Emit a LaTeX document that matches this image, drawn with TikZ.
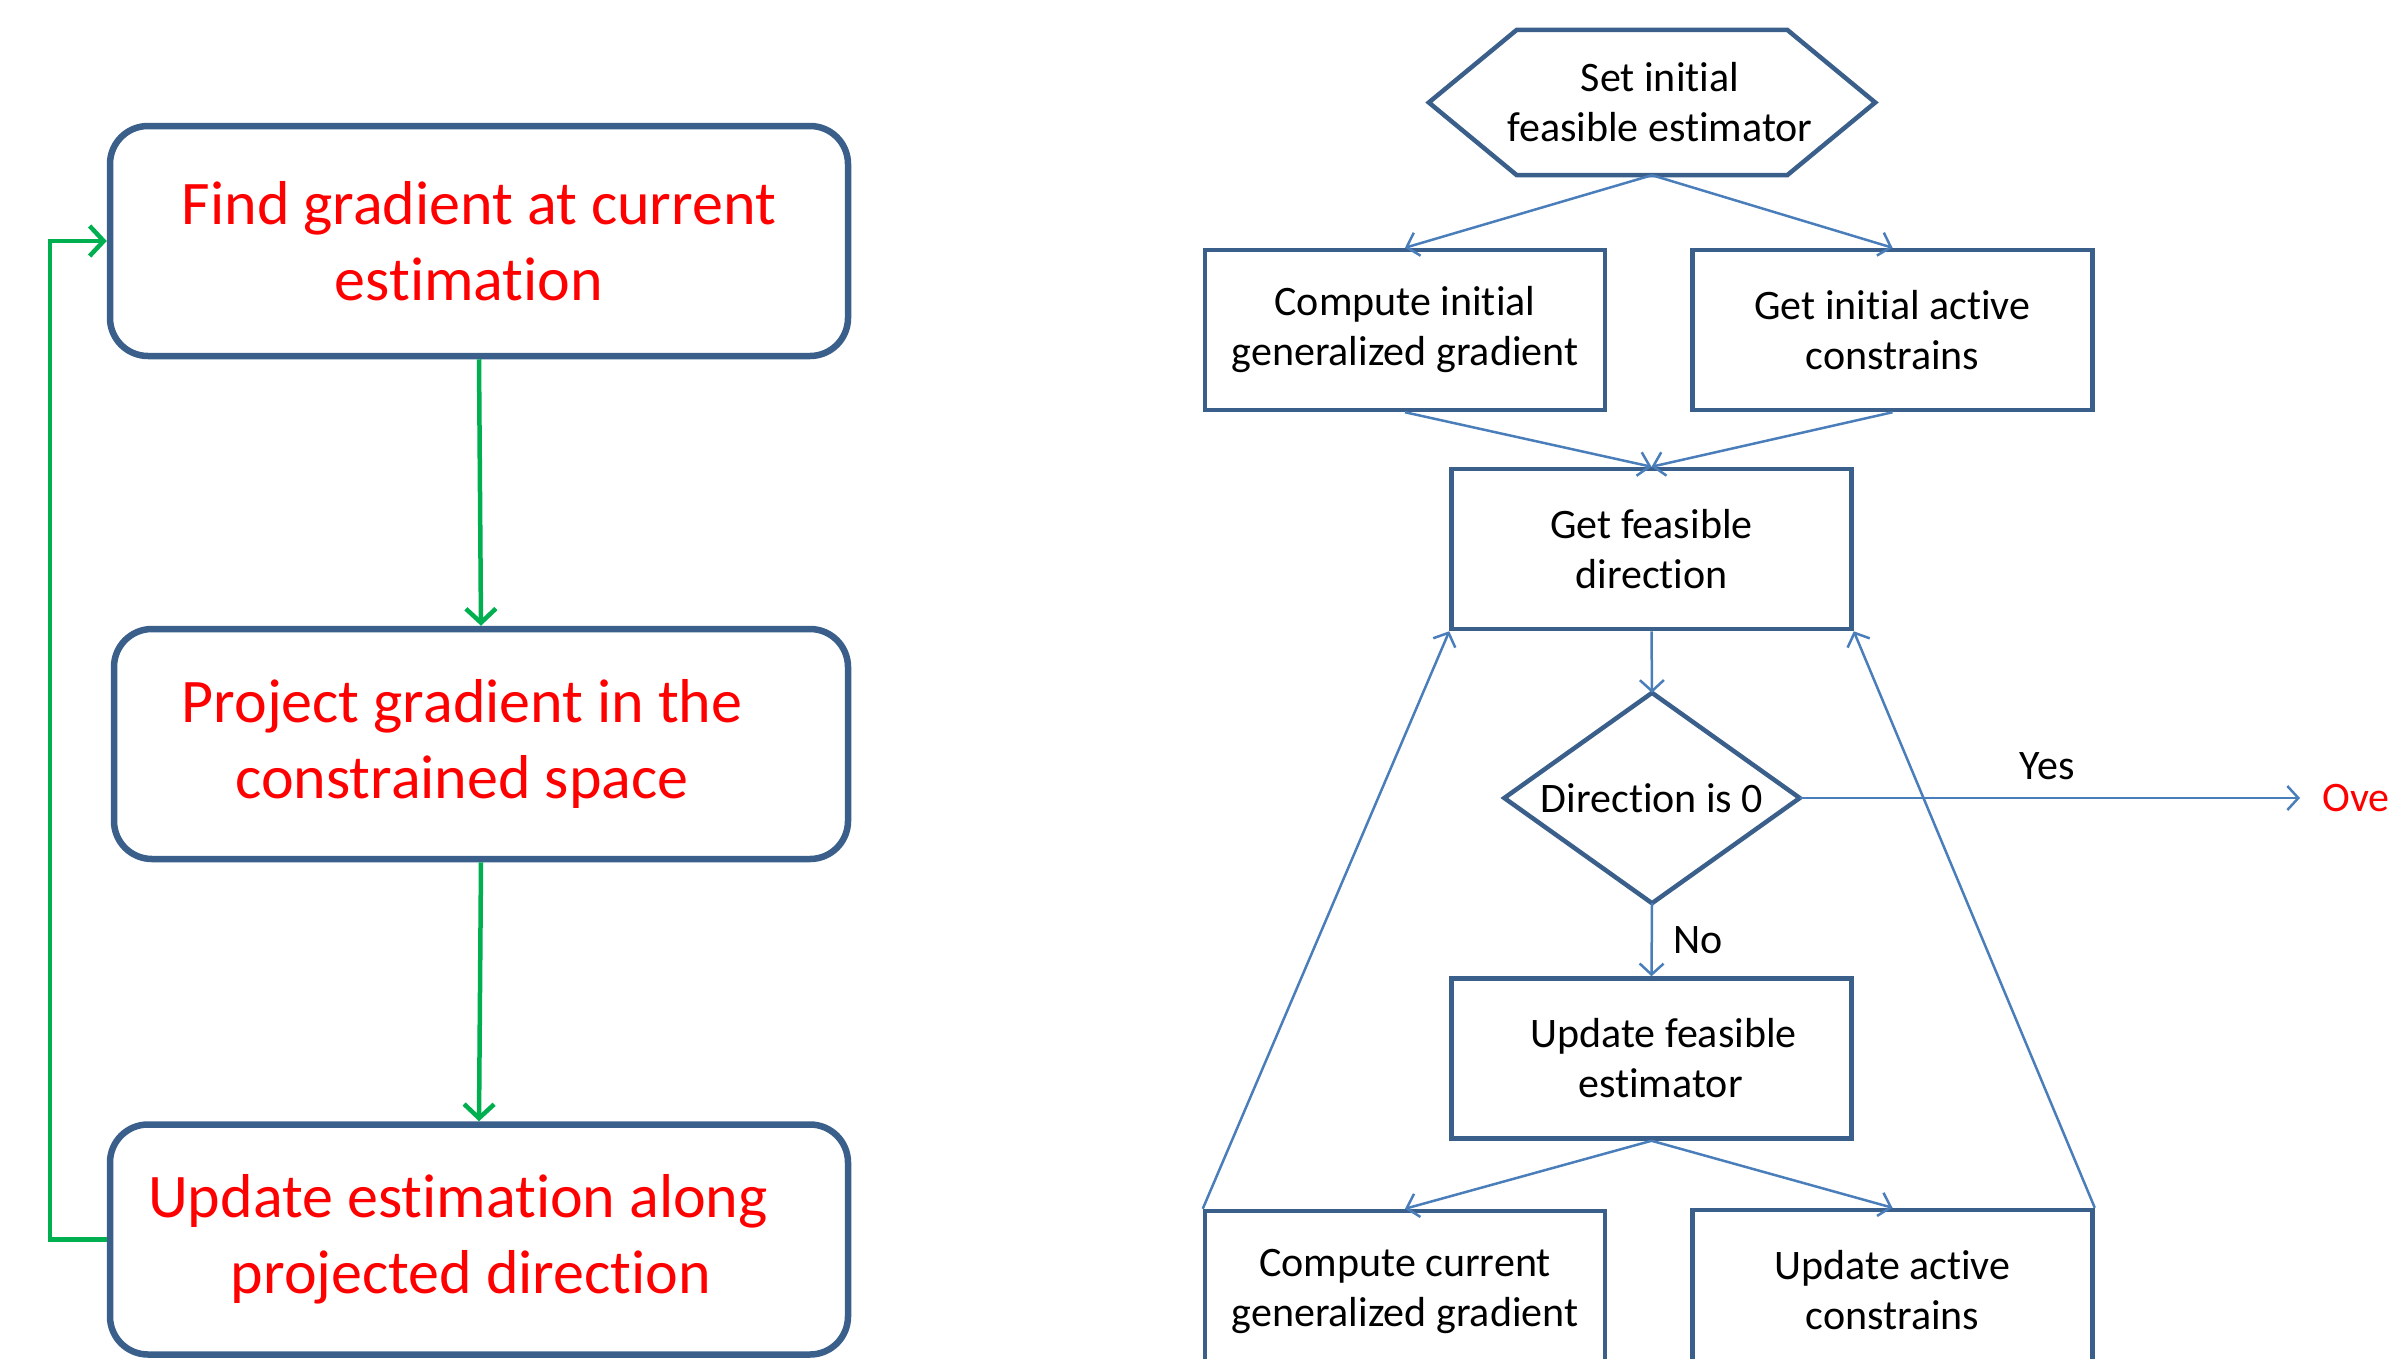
\documentclass[tikz,border=0pt]{standalone}
\usepackage{fontspec}
\setmainfont[Ligatures=NoCommon]{Carlito}
\usetikzlibrary{arrows.meta,calc}
\definecolor{edgeblue}{HTML}{3A5F8B}
\definecolor{linkblue}{HTML}{4A7EBB}
\definecolor{loopgreen}{HTML}{00B050}
\definecolor{alertred}{HTML}{FF0000}

\begin{document}
\begin{tikzpicture}[x=1pt,y=-1pt,
  bigbox/.style={draw=edgeblue, line width=6.5pt, rounded corners=38pt, align=center,
    text=alertred, font=\fontsize{62}{76}\selectfont, inner sep=0pt,
    minimum width=738pt, minimum height=230pt},
  stepbox/.style={draw=edgeblue, line width=4.5pt, align=center,
    font=\fontsize{42}{50}\selectfont, inner sep=0pt,
    minimum width=400pt, minimum height=160pt},
  frame/.style={align=center, font=\fontsize{42}{50}\selectfont, inner sep=0pt},
  outline/.style={draw=edgeblue, line width=4.5pt, line join=miter},
  label/.style={font=\fontsize{42}{50}\selectfont, inner sep=0pt},
  greenarrow/.style={draw=loopgreen, line width=4.5pt,
    -{Straight Barb[length=14pt,width=30pt]}},
  link/.style={draw=linkblue, line width=2.5pt,
    -{Straight Barb[length=11pt,width=24pt]}},
]
\clip (0,0) rectangle (2388,1358);
\useasboundingbox (0,0) rectangle (2388,1358);

% ---- left: projected gradient loop ----
\node[bigbox] (find) at (479,241) {Find gradient at current\\estimation\hspace*{20pt}};
\node[bigbox, minimum width=734pt] (proj) at (481,744)
  {Project gradient in the\hspace*{38pt}\\constrained space\hspace*{38pt}};
\node[bigbox] (upd) at (479,1239.5)
  {Update estimation along\hspace*{42pt}\\projected direction\hspace*{16pt}};
\coordinate (loopx) at (50,0);

\draw[greenarrow] (find.south) -- (proj.north);
\draw[greenarrow] (proj.south) -- (upd.north);
\draw[greenarrow] (upd.west) -- (upd.west -| loopx) |- (find.west);

% ---- right: feasible direction flowchart ----
\node[frame, minimum width=446pt, minimum height=145pt] (set) at (1652,102.5)
  {\hspace*{16pt}Set initial\\\hspace*{16pt}feasible estimator};
\draw[outline] (set.west) -- ($(set.north west)+(88,0)$) -- ($(set.north east)+(-88,0)$)
  -- (set.east) -- ($(set.south east)+(-88,0)$) -- ($(set.south west)+(88,0)$) -- cycle;

\node[stepbox] (ci) at (1405,330) {Compute initial\\generalized gradient};
\node[stepbox] (ga) at (1892.5,330) {Get initial active\\constrains};
\node[stepbox] (gf) at (1651.5,549) {Get feasible\\direction};

\node[frame, minimum width=295pt, minimum height=210pt] (dir) at (1652,798) {Direction is 0};
\draw[outline] (dir.north) -- (dir.east) -- (dir.south) -- (dir.west) -- cycle;

\node[stepbox] (uf) at (1651.5,1058.5)
  {\hspace*{24pt}Update feasible\\\hspace*{18pt}estimator};
\node[stepbox] (cc) at (1405,1291) {Compute current\\generalized gradient};
\node[stepbox] (ua) at (1892.5,1290) {Update active\\constrains};

\coordinate (yesend) at (2300,798);
\node[label, anchor=west, text=alertred] (over) at (2322,798) {Over};
\node[label] (yes) at (2047,766) {Yes};
\node[label] (no) at (1698,940) {No};

\draw[link] (set.south) -- (ci.north);
\draw[link] (set.south) -- (ga.north);
\draw[link] (ci.south) -- (gf.north);
\draw[link] (ga.south) -- (gf.north);
\draw[link] (gf.south) -- (dir.north);
\draw[link] (dir.south) -- (uf.north);
\draw[link] (dir.east) -- (yesend);
\draw[link] (uf.south) -- (cc.north);
\draw[link] (uf.south) -- (ua.north);
\draw[link] (cc.north west) -- (gf.south west);
\draw[link] (ua.north east) -- (gf.south east);
\end{tikzpicture}
\end{document}
